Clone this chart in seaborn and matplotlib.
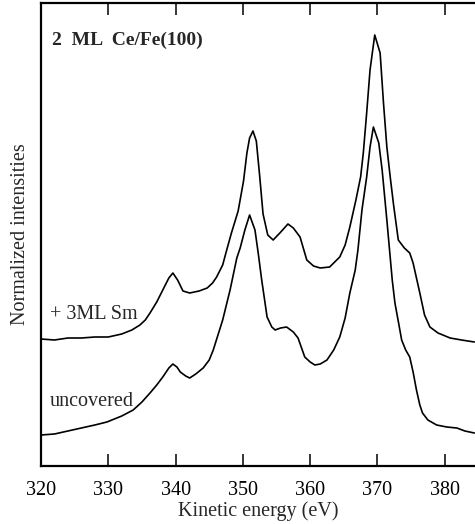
import matplotlib
matplotlib.use("Agg")
import matplotlib.pyplot as plt
import seaborn as sns
import pandas as pd

# Auger spectra, 2 ML Ce on Fe(100): with 3 ML Sm overlayer and uncovered
energy_sm = [320.0, 322.0, 324.0, 326.0, 328.0, 330.0, 332.0, 333.5, 334.7, 335.5,
             336.2, 337.2, 338.1, 339.0, 339.6, 340.3, 341.1, 342.1, 343.5, 344.7,
             345.5, 346.1, 347.0, 347.6, 348.3, 349.3, 350.1, 350.6, 351.0, 351.5,
             352.0, 352.5, 353.0, 353.7, 354.5, 355.5, 356.7, 357.5, 358.5, 359.5,
             360.5, 361.5, 362.9, 364.4, 365.2, 365.9, 366.8, 367.5, 367.9, 368.4,
             368.9, 369.6, 370.4, 370.9, 371.4, 371.9, 372.4, 373.1, 374.0, 374.8,
             375.3, 376.3, 377.0, 377.8, 379.0, 380.8, 382.5, 384.4]
intensity_sm = [1.27, 1.26, 1.28, 1.28, 1.29, 1.29, 1.32, 1.36, 1.41, 1.46,
                1.53, 1.64, 1.76, 1.88, 1.93, 1.86, 1.75, 1.73, 1.75, 1.78,
                1.83, 1.89, 2.01, 2.16, 2.33, 2.55, 2.85, 3.13, 3.28, 3.35,
                3.25, 2.90, 2.52, 2.31, 2.26, 2.33, 2.42, 2.38, 2.29, 2.06,
                2.00, 1.98, 1.99, 2.09, 2.21, 2.39, 2.66, 2.89, 3.13, 3.53,
                3.96, 4.31, 4.13, 3.63, 3.19, 2.89, 2.61, 2.26, 2.18, 2.13,
                2.03, 1.73, 1.51, 1.39, 1.33, 1.28, 1.26, 1.24]

energy_unc = [320.0, 322.0, 324.0, 326.0, 328.0, 329.8, 332.0, 333.7, 335.0, 336.2,
              337.2, 338.1, 339.0, 339.6, 340.2, 340.7, 341.5, 342.1, 343.0, 344.1,
              345.0, 345.6, 346.3, 347.0, 348.1, 349.1, 349.6, 350.3, 351.0, 351.8,
              352.3, 352.8, 353.6, 354.3, 354.8, 355.6, 356.5, 357.5, 358.2, 359.2,
              360.0, 360.7, 361.5, 362.5, 363.5, 364.4, 365.2, 365.9, 366.7, 367.1,
              367.7, 368.4, 368.9, 369.4, 370.2, 370.7, 371.4, 372.2, 372.6, 373.2,
              373.6, 374.2, 374.8, 375.3, 375.8, 376.3, 376.7, 377.5, 378.8, 380.3,
              381.8, 383.0, 384.4]
intensity_unc = [0.31, 0.32, 0.35, 0.38, 0.41, 0.44, 0.50, 0.56, 0.64, 0.73,
                 0.81, 0.89, 0.98, 1.02, 0.99, 0.94, 0.90, 0.88, 0.92, 0.98,
                 1.06, 1.16, 1.31, 1.46, 1.76, 2.08, 2.18, 2.36, 2.51, 2.36,
                 2.12, 1.86, 1.49, 1.39, 1.36, 1.38, 1.39, 1.34, 1.28, 1.09,
                 1.04, 1.01, 1.02, 1.06, 1.16, 1.29, 1.48, 1.73, 1.96, 2.16,
                 2.56, 2.89, 3.19, 3.39, 3.23, 2.96, 2.46, 1.86, 1.63, 1.41,
                 1.26, 1.16, 1.09, 0.94, 0.76, 0.61, 0.53, 0.46, 0.41, 0.39,
                 0.38, 0.35, 0.33]

x_ticks = [320, 330, 340, 350, 360, 370, 380]
title_text = "2  ML  Ce/Fe(100)"
label_sm = "+ 3ML Sm"
label_unc = "uncovered"

sns.set_style("ticks")
plt.rcParams["font.family"] = ["Liberation Serif", "DejaVu Serif"]

W, H = 475, 524
fig = plt.figure(figsize=(W / 100, H / 100), dpi=100)
ax_left, ax_bottom, ax_top = 41, 466, 3
ax = fig.add_axes([ax_left / W, 1 - ax_bottom / H, 1 - ax_left / W, (ax_bottom - ax_top) / H])

df_sm = pd.DataFrame({"E": energy_sm, "I": intensity_sm})
df_unc = pd.DataFrame({"E": energy_unc, "I": intensity_unc})
sns.lineplot(data=df_sm, x="E", y="I", color="black", lw=1.2, estimator=None, sort=False, ax=ax)
sns.lineplot(data=df_unc, x="E", y="I", color="black", lw=1.2, estimator=None, sort=False, ax=ax)

ax.set_xlim(320, 384.5)
ax.set_ylim(0, 4.63)
ax.set_xticks(x_ticks)
ax.set_xticklabels([str(t) for t in x_ticks])
ax.set_yticks([])
ax.tick_params(axis="x", which="both", direction="in", length=8.5, width=1.1,
               top=True, bottom=True, labelsize=14.5, pad=11, colors="black")
for side in ("left", "bottom", "top"):
    ax.spines[side].set_linewidth(1.6)
    ax.spines[side].set_color("black")
ax.spines["right"].set_visible(False)

ax.set_xlabel("Kinetic energy (eV)", fontsize=14.5, labelpad=0.5)
ax.set_ylabel("Normalized intensities", fontsize=14.5, labelpad=8)

fig.text(52 / W, 1 - 45 / H, title_text, fontsize=14, fontweight="bold",
         ha="left", va="baseline")
fig.text(50 / W, 1 - 319 / H, label_sm, fontsize=14.5, ha="left", va="baseline")
fig.text(50 / W, 1 - 406 / H, label_unc, fontsize=14.5, ha="left", va="baseline")

fig.savefig("out.png", dpi=100)
